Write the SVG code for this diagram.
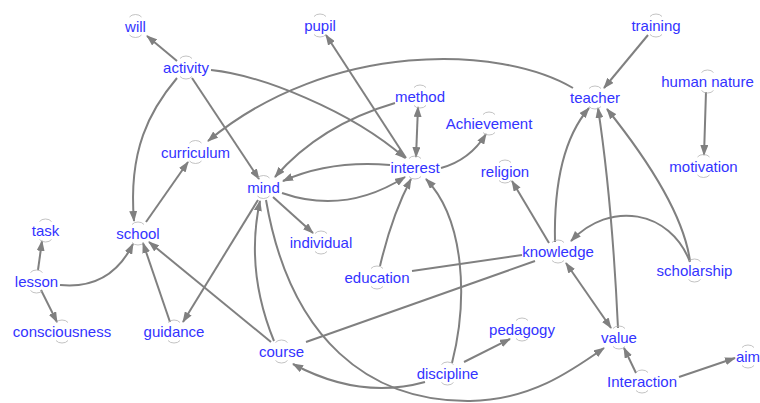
<svg xmlns="http://www.w3.org/2000/svg" xmlns:xlink="http://www.w3.org/1999/xlink" width="760" height="403" viewBox="0 0 760 403">
<style>
.lbl{font-family:"Liberation Sans",Arial,sans-serif;font-size:15px;fill:#3333ff;text-anchor:middle}
.e{fill:none;stroke:#808080;stroke-width:2}
.a{marker-end:url(#ah)}
.b{marker-end:url(#ah);marker-start:url(#ahs)}
.mk{fill:none;stroke:#b4b4b4;stroke-width:0.8}
</style>
<defs>
<marker id="ah" markerUnits="userSpaceOnUse" markerWidth="11" markerHeight="8" refX="10" refY="4" orient="auto"><path d="M0,0 L11,4 L0,8 z" fill="#808080"/></marker>
<marker id="ahs" markerUnits="userSpaceOnUse" markerWidth="11" markerHeight="8" refX="10" refY="4" orient="auto-start-reverse"><path d="M0,0 L11,4 L0,8 z" fill="#808080"/></marker>
<path id="mk" class="mk" d="M-6,-14.5 Q-4,-17 0,-17 Q4,-17 6,-14.5 M-6,3.5 Q-4,6 0,6 Q4,6 6,3.5"/>
</defs>
<rect width="760" height="403" fill="#ffffff"/>
<g id="connectors">
<path class="e a" d="M177,61 L147,36"/>
<path class="e a" d="M177,78 C150,110 128,150 134,221"/>
<path class="e a" d="M192,78 L259,179"/>
<path class="e a" d="M211,70 C260,75 350,110 405,158"/>
<path class="e a" d="M573,88 C500,45 330,40 208,141"/>
<path class="e a" d="M406,158 L326,35"/>
<path class="e b" d="M418,107 L416,157"/>
<path class="e a" d="M395,103 Q320,125 275,177"/>
<path class="e a" d="M390,165 Q330,160 283,181"/>
<path class="e a" d="M282,193 Q345,215 405,177"/>
<path class="e a" d="M441,168 Q470,160 486,134"/>
<path class="e a" d="M273,197 L313,233"/>
<path class="e a" d="M258,200 L183,322"/>
<path class="e a" d="M274,341 Q245,270 260,201"/>
<path class="e a" d="M266,200 C290,340 370,402 470,401 C530,400 570,372 604,348"/>
<path class="e a" d="M425,382 Q360,400 293,364"/>
<path class="e a" d="M452,363 C468,300 465,220 426,179"/>
<path class="e a" d="M464,362 L510,339"/>
<path class="e a" d="M380,266 Q392,215 411,179"/>
<path class="e" d="M412,271 L522,255"/>
<path class="e" d="M306,342 L535,261"/>
<path class="e a" d="M271,342 L149,242"/>
<path class="e a" d="M170,322 L143,243"/>
<path class="e a" d="M146,222 L188,162"/>
<path class="e a" d="M60,285 Q110,290 133,244"/>
<path class="e a" d="M38,270 L42,241"/>
<path class="e a" d="M41,290 L57,322"/>
<path class="e a" d="M648,35 L604,88"/>
<path class="e a" d="M706,92 L704,155"/>
<path class="e a" d="M555,242 Q553,150 589,108"/>
<path class="e a" d="M618,328 Q612,200 598,108"/>
<path class="e a" d="M690,261 C685,225 660,175 607,109"/>
<path class="e a" d="M690,262 C670,210 610,200 571,241"/>
<path class="e a" d="M549,243 L512,181"/>
<path class="e b" d="M566,263 L611,328"/>
<path class="e a" d="M636,373 L624,348"/>
<path class="e a" d="M679,377 L735,358"/>
</g>
<g id="n-will"><use xlink:href="#mk" x="135.5" y="31.5"/><text class="lbl" x="135.5" y="31.5">will</text></g>
<g id="n-activity"><use xlink:href="#mk" x="186" y="73"/><text class="lbl" x="186" y="73">activity</text></g>
<g id="n-pupil"><use xlink:href="#mk" x="320" y="31"/><text class="lbl" x="320" y="31">pupil</text></g>
<g id="n-training"><use xlink:href="#mk" x="656" y="31"/><text class="lbl" x="656" y="31">training</text></g>
<g id="n-teacher"><use xlink:href="#mk" x="595" y="103"/><text class="lbl" x="595" y="103">teacher</text></g>
<g id="n-human-nature"><use xlink:href="#mk" x="707.5" y="87"/><text class="lbl" x="707.5" y="87">human nature</text></g>
<g id="n-method"><use xlink:href="#mk" x="420" y="102"/><text class="lbl" x="420" y="102">method</text></g>
<g id="n-achievement"><use xlink:href="#mk" x="489" y="129"/><text class="lbl" x="489" y="129">Achievement</text></g>
<g id="n-curriculum"><use xlink:href="#mk" x="195.5" y="157.5"/><text class="lbl" x="195.5" y="157.5">curriculum</text></g>
<g id="n-interest"><use xlink:href="#mk" x="415" y="173"/><text class="lbl" x="415" y="173">interest</text></g>
<g id="n-religion"><use xlink:href="#mk" x="505" y="177"/><text class="lbl" x="505" y="177">religion</text></g>
<g id="n-motivation"><use xlink:href="#mk" x="703.5" y="171.5"/><text class="lbl" x="703.5" y="171.5">motivation</text></g>
<g id="n-mind"><use xlink:href="#mk" x="263.5" y="192.5"/><text class="lbl" x="263.5" y="192.5">mind</text></g>
<g id="n-individual"><use xlink:href="#mk" x="321" y="248"/><text class="lbl" x="321" y="248">individual</text></g>
<g id="n-task"><use xlink:href="#mk" x="45.5" y="236"/><text class="lbl" x="45.5" y="236">task</text></g>
<g id="n-school"><use xlink:href="#mk" x="138" y="239"/><text class="lbl" x="138" y="239">school</text></g>
<g id="n-knowledge"><use xlink:href="#mk" x="558" y="257"/><text class="lbl" x="558" y="257">knowledge</text></g>
<g id="n-scholarship"><use xlink:href="#mk" x="694.5" y="276"/><text class="lbl" x="694.5" y="276">scholarship</text></g>
<g id="n-education"><use xlink:href="#mk" x="377" y="283"/><text class="lbl" x="377" y="283">education</text></g>
<g id="n-lesson"><use xlink:href="#mk" x="36.5" y="287"/><text class="lbl" x="36.5" y="287">lesson</text></g>
<g id="n-consciousness"><use xlink:href="#mk" x="62" y="337"/><text class="lbl" x="62" y="337">consciousness</text></g>
<g id="n-guidance"><use xlink:href="#mk" x="174" y="337"/><text class="lbl" x="174" y="337">guidance</text></g>
<g id="n-pedagogy"><use xlink:href="#mk" x="522" y="335"/><text class="lbl" x="522" y="335">pedagogy</text></g>
<g id="n-value"><use xlink:href="#mk" x="619" y="343"/><text class="lbl" x="619" y="343">value</text></g>
<g id="n-course"><use xlink:href="#mk" x="281.5" y="357"/><text class="lbl" x="281.5" y="357">course</text></g>
<g id="n-discipline"><use xlink:href="#mk" x="447.5" y="379"/><text class="lbl" x="447.5" y="379">discipline</text></g>
<g id="n-interaction"><use xlink:href="#mk" x="642" y="387"/><text class="lbl" x="642" y="387">Interaction</text></g>
<g id="n-aim"><use xlink:href="#mk" x="748" y="362"/><text class="lbl" x="748" y="362">aim</text></g>
</svg>
